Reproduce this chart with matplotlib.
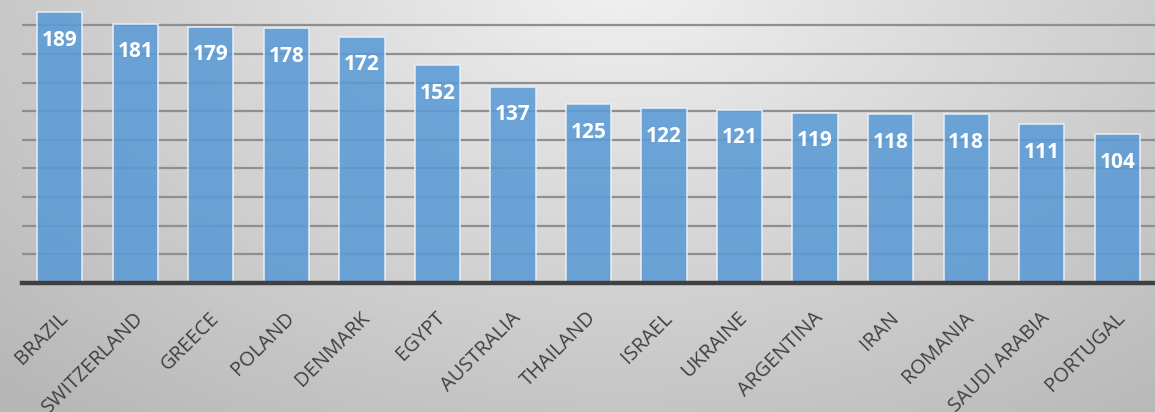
import numpy as np
import matplotlib
matplotlib.use("Agg")
import matplotlib.pyplot as plt
from matplotlib.transforms import ScaledTranslation, blended_transform_factory

countries = ["BRAZIL", "SWITZERLAND", "GREECE", "POLAND", "DENMARK", "EGYPT",
             "AUSTRALIA", "THAILAND", "ISRAEL", "UKRAINE", "ARGENTINA", "IRAN",
             "ROMANIA", "SAUDI ARABIA", "PORTUGAL"]
values = [189, 181, 179, 178, 172, 152, 137, 125, 122, 121, 119, 118, 118, 111, 104]

W, H, DPI = 1155, 412, 100
fig = plt.figure(figsize=(W / DPI, H / DPI), dpi=DPI)

# background radial gradient
bg = fig.add_axes([0, 0, 1, 1])
yy, xx = np.mgrid[0:H, 0:W]
d = np.sqrt(((xx - 620) / W) ** 2 + ((yy + 20) / H * 0.55) ** 2)
g = 0.945 - 0.30 * d
g = np.clip(g, 0.72, 0.95)
bg.imshow(np.dstack([g, g, g]), aspect="auto", extent=[0, 1, 0, 1], origin="upper")
bg.axis("off")

ax = fig.add_axes([22 / W, 1 - 283 / H, 1 - 22 / W, 283 / H])
ax.patch.set_alpha(0)
x = np.arange(len(countries))
ax.set_xlim(-0.5, len(countries) - 0.5)
ax.set_ylim(0, 283 / 1.432)

for yv in range(20, 200, 20):
    ax.axhline(yv, color="#8f8f8f", lw=1.6, zorder=1)

ax.bar(x, values, width=0.6, color="#5b9bd5", alpha=0.88, edgecolor="#eaf1f9",
       linewidth=1.2, zorder=2)

for xi, v in zip(x, values):
    ax.annotate(str(v), (xi, v), xytext=(0, -28), textcoords="offset pixels",
                ha="center", va="center", color="white", fontsize=15,
                fontweight="bold", family="Open Sans", zorder=3)

for s in ["top", "right", "left"]:
    ax.spines[s].set_visible(False)
ax.spines["bottom"].set_color("#404040")
ax.spines["bottom"].set_linewidth(3.2)
ax.spines["bottom"].set_zorder(4)
ax.set_yticks([])
ax.set_xticks([])

trans = blended_transform_factory(ax.transData, ax.transAxes) + \
    ScaledTranslation(5 / DPI, -32 / DPI, fig.dpi_scale_trans)
for xi, c in zip(x, countries):
    ax.text(xi, 0, c, transform=trans, rotation=45, rotation_mode="anchor",
            ha="right", va="center", fontsize=14.5, color="#404040",
            family="Open Sans")

fig.savefig("out.png", dpi=DPI)
